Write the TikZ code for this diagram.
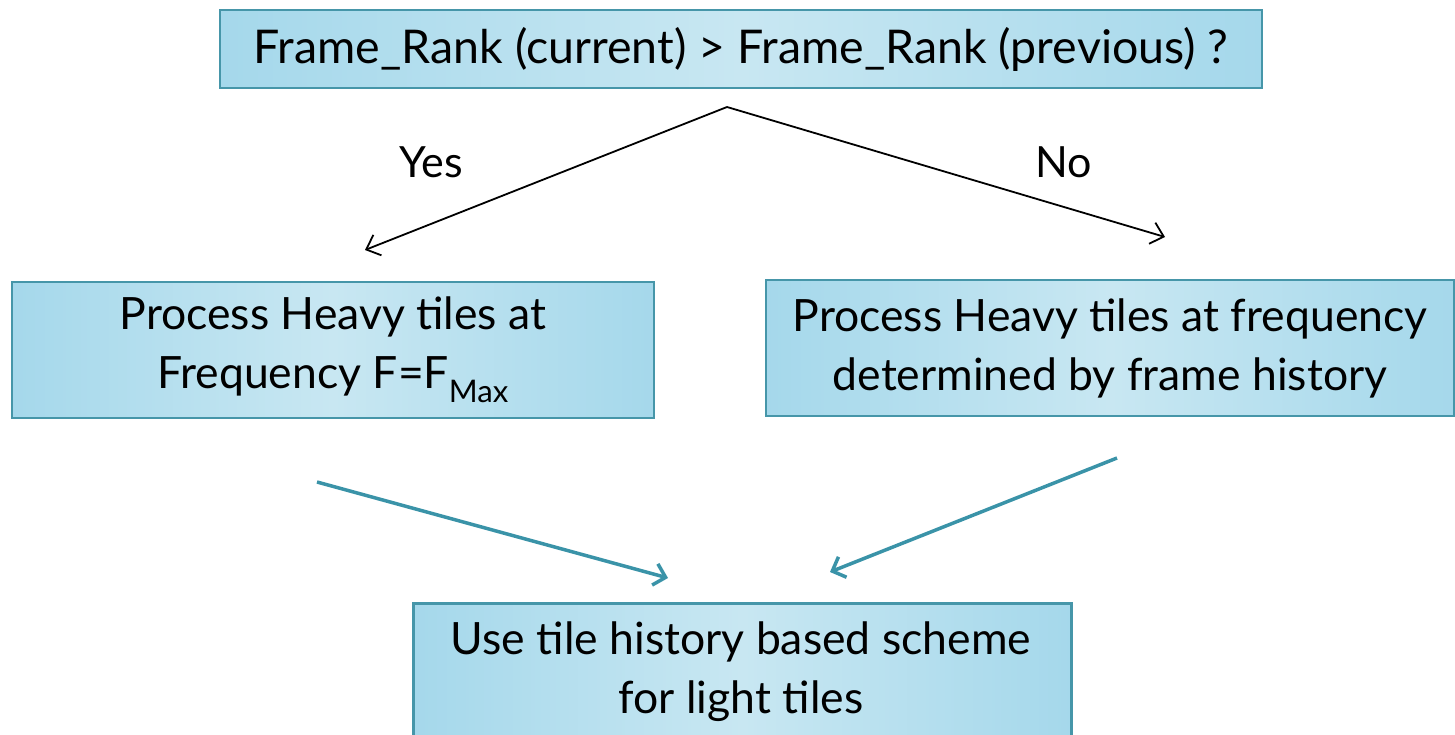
\documentclass[tikz,border=0pt]{standalone}
\usepackage{fontspec}
\setmainfont{Lato}
\usetikzlibrary{arrows.meta}
\definecolor{boxedge}{HTML}{A5D8EB}
\definecolor{boxmid}{HTML}{C8E7F2}
\definecolor{boxline}{HTML}{4696A9}
\definecolor{teal}{HTML}{3A93A8}
\begin{document}
\begin{tikzpicture}[x=1pt,y=-1pt,
  box/.style={draw=boxline,line width=2.8pt,left color=boxedge,right color=boxedge,middle color=boxmid,
    align=center,inner sep=0pt},
  boxtext/.style={font=\fontsize{44.5}{59}\selectfont,align=center,inner sep=0pt},
  blackarrow/.style={draw=black,line width=1.8pt,-{Straight Barb[length=12pt,width=22pt,line width=1.8pt]}},
  tealarrow/.style={draw=teal,line width=3.5pt,-{Straight Barb[length=11pt,width=22pt,line width=3.5pt]}},
  lbl/.style={font=\fontsize{43}{45}\selectfont,inner sep=0pt}]
\useasboundingbox (0,0) rectangle (1455,735);
\clip (0,0) rectangle (1455,735);
\node[box,boxtext,font=\fontsize{46.5}{59}\selectfont,minimum width=1042pt,minimum height=78pt] (top) at (741,49) {Frame\_Rank (current) > Frame\_Rank (previous) ?};
\node[box,boxtext,minimum width=642pt,minimum height=136pt] (yesbox) at (333,350) {Process Heavy tiles at\\Frequency F=F\textsubscript{Max}};
\node[box,boxtext,minimum width=688pt,minimum height=136pt] (nobox) at (1110,348) {Process Heavy tiles at frequency\\determined by frame history};
\node[box,minimum width=658pt,minimum height=150pt,anchor=north west] (light) at (412,602) {};
\node[boxtext] (lighttext) at (741,672) {Use tile history based scheme\\for light tiles};
\node[lbl] (yes) at (431,162) {Yes};
\node[lbl] (no) at (1064,162) {No};
\coordinate (split) at (727,107);
\coordinate (yestip) at (365,250);
\coordinate (notip) at (1165,237);
\coordinate (ltail) at (317,482);
\coordinate (ltip) at (668,578);
\coordinate (rtail) at (1117,458);
\coordinate (rtip) at (830,572);
\draw[blackarrow] (split) -- (yestip);
\draw[blackarrow] (split) -- (notip);
\draw[tealarrow] (ltail) -- (ltip);
\draw[tealarrow] (rtail) -- (rtip);
\end{tikzpicture}
\end{document}
